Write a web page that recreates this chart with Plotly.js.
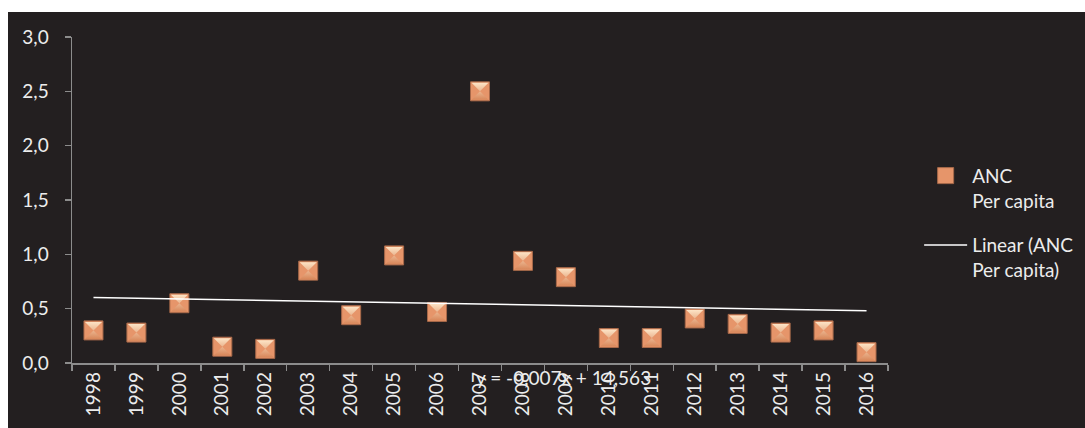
<!DOCTYPE html>
<html>
<head>
<meta charset="utf-8">
<script src="https://cdn.plot.ly/plotly-3.0.1.min.js"></script>
<style>
  html, body { margin: 0; padding: 0; background: #ffffff; }
  #wrap { position: absolute; left: 8px; top: 12px; width: 1077px; height: 416px; }
  #chart { width: 1077px; height: 416px; }
</style>
</head>
<body>
<div id="wrap"><div id="chart"></div></div>
<script>
// ANC per capita by year
const years = ['1998','1999','2000','2001','2002','2003','2004','2005','2006','2007',
               '2008','2009','2010','2011','2012','2013','2014','2015','2016'];
const ancPerCapita = [0.30, 0.28, 0.55, 0.15, 0.13, 0.85, 0.44, 0.99, 0.47, 2.50,
                      0.94, 0.79, 0.23, 0.23, 0.41, 0.36, 0.28, 0.30, 0.10];
const yTicks = [0, 0.5, 1.0, 1.5, 2.0, 2.5, 3.0];
const trendLabel = 'y = -0,007x + 14,563';

// least-squares linear trend against the year number
const xs = years.map(Number);
const n = xs.length;
const mx = xs.reduce((a, b) => a + b, 0) / n;
const my = ancPerCapita.reduce((a, b) => a + b, 0) / n;
let sxy = 0, sxx = 0;
for (let i = 0; i < n; i++) {
  sxy += (xs[i] - mx) * (ancPerCapita[i] - my);
  sxx += (xs[i] - mx) * (xs[i] - mx);
}
const slope = sxy / sxx;
const intercept = my - slope * mx;
const trend = xs.map(x => intercept + slope * x);

const textColor = '#ececec';
const axisColor = '#8c8c8c';
const font = { family: 'Lato, "Open Sans", sans-serif', size: 19, color: textColor };

const traces = [
  {
    x: years, y: ancPerCapita, type: 'scatter', mode: 'markers',
    name: 'ANC<br>Per capita', legendgroup: 'a',
    marker: {
      symbol: 'square', size: 19, color: '#e6956a',
      line: { color: '#a8694a', width: 1 }
    },
    hoverinfo: 'x+y'
  },
  {
    // bevel facets: light top, darker bottom
    x: years, y: ancPerCapita, type: 'scatter', mode: 'markers',
    showlegend: false, hoverinfo: 'skip',
    marker: {
      symbol: 'hourglass', size: 17, color: '#fde4c6',
      gradient: { type: 'vertical', color: '#d8875a' },
      line: { width: 0 }
    }
  },
  {
    x: years, y: trend, type: 'scatter', mode: 'lines',
    name: 'Linear (ANC<br>Per capita)', legendgroup: 'b',
    line: { color: '#ffffff', width: 1.5 },
    hoverinfo: 'skip'
  }
];

const layout = {
  width: 1077, height: 416,
  paper_bgcolor: '#231f20', plot_bgcolor: '#231f20',
  margin: { l: 64, r: 197, t: 25, b: 65, autoexpand: false },
  font: font,
  separators: ', ',
  showlegend: true,
  legend: {
    xref: 'container', yref: 'container',
    x: 0.846, xanchor: 'left', y: 0.652, yanchor: 'top',
    bgcolor: 'rgba(0,0,0,0)', font: font,
    itemwidth: 43, valign: 'top', tracegroupgap: 17,
    traceorder: 'grouped'
  },
  xaxis: {
    type: 'category', range: [-0.5, 18.5],
    showline: true, linecolor: axisColor, linewidth: 1.5,
    ticks: 'outside', tickson: 'boundaries', ticklen: 6, tickcolor: axisColor, tickwidth: 1.5,
    tickangle: -90, tickfont: font, showgrid: false, zeroline: false
  },
  yaxis: {
    range: [0, 3], tickvals: yTicks, tickformat: '.1f',
    showline: true, linecolor: axisColor, linewidth: 1.5,
    ticks: 'outside', ticklen: 6, tickcolor: axisColor, tickwidth: 1.5,
    ticklabelstandoff: 12,
    tickfont: font, showgrid: false, zeroline: false
  },
  annotations: [{
    text: trendLabel, xref: 'x', yref: 'paper', x: 10.95, y: -0.043,
    showarrow: false, font: { family: font.family, size: 19, color: textColor },
    xanchor: 'center', yanchor: 'middle'
  }]
};

Plotly.newPlot('chart', traces, layout, { displayModeBar: false, staticPlot: true });
</script>
</body>
</html>
